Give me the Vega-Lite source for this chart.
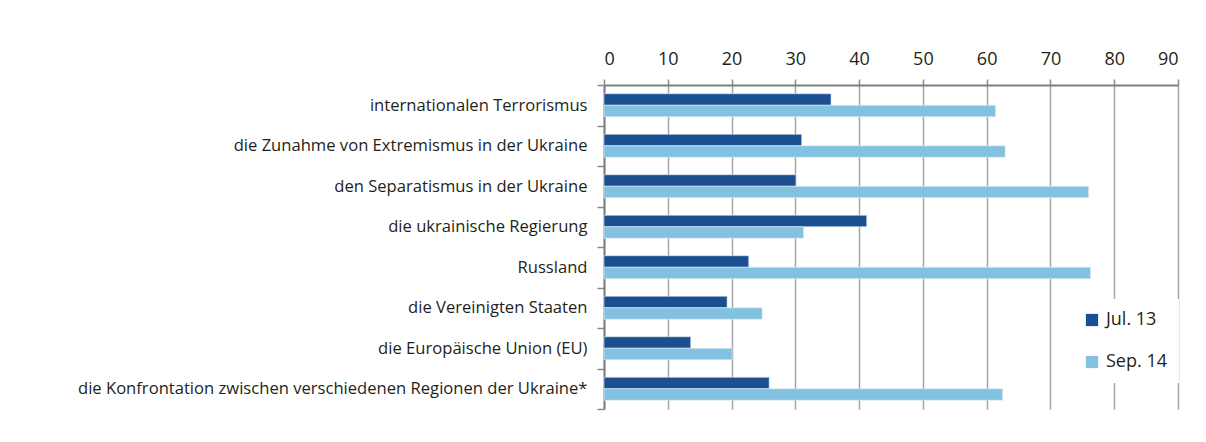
{
  "$schema": "https://vega.github.io/schema/vega-lite/v6.json",
  "autosize": "none",
  "width": 574,
  "height": 324,
  "padding": {"left": 604, "top": 85, "right": 28, "bottom": 33},
  "background": "white",
  "config": {"view": {"stroke": null}, "font": "Open Sans"},
  "data": {
    "values": [
      {"cat": "internationalen Terrorismus", "wave": "Jul. 13", "v": 35.6},
      {"cat": "internationalen Terrorismus", "wave": "Sep. 14", "v": 61.4},
      {"cat": "die Zunahme von Extremismus in der Ukraine", "wave": "Jul. 13", "v": 31.0},
      {"cat": "die Zunahme von Extremismus in der Ukraine", "wave": "Sep. 14", "v": 62.9},
      {"cat": "den Separatismus in der Ukraine", "wave": "Jul. 13", "v": 30.1},
      {"cat": "den Separatismus in der Ukraine", "wave": "Sep. 14", "v": 76.0},
      {"cat": "die ukrainische Regierung", "wave": "Jul. 13", "v": 41.2},
      {"cat": "die ukrainische Regierung", "wave": "Sep. 14", "v": 31.3},
      {"cat": "Russland", "wave": "Jul. 13", "v": 22.7},
      {"cat": "Russland", "wave": "Sep. 14", "v": 76.3},
      {"cat": "die Vereinigten Staaten", "wave": "Jul. 13", "v": 19.3},
      {"cat": "die Vereinigten Staaten", "wave": "Sep. 14", "v": 24.8},
      {"cat": "die Europäische Union (EU)", "wave": "Jul. 13", "v": 13.6},
      {"cat": "die Europäische Union (EU)", "wave": "Sep. 14", "v": 20.1},
      {"cat": "die Konfrontation zwischen verschiedenen Regionen der Ukraine*", "wave": "Jul. 13", "v": 25.9},
      {"cat": "die Konfrontation zwischen verschiedenen Regionen der Ukraine*", "wave": "Sep. 14", "v": 62.5}
    ]
  },
  "mark": {"type": "bar", "stroke": "#e6eef6", "strokeWidth": 0.6},
  "encoding": {
    "y": {
      "field": "cat", "type": "nominal", "sort": null,
      "scale": {"paddingInner": 0, "paddingOuter": 0},
      "axis": {
        "title": null, "orient": "left",
        "tickBand": "extent", "tickSize": 7, "tickColor": "#8a8a8e", "tickWidth": 1.5,
        "domainColor": "#7f7f83", "domainWidth": 2,
        "labelFontSize": 16.6, "labelColor": "#231f20", "labelPadding": 10, "labelLimit": 600,
        "grid": false
      }
    },
    "yOffset": {
      "field": "wave", "type": "nominal",
      "scale": {"paddingInner": 0, "paddingOuter": 0.76}
    },
    "x": {
      "field": "v", "type": "quantitative",
      "scale": {"domain": [0, 90], "nice": false},
      "axis": {
        "title": null, "orient": "top", "values": [0,10,20,30,40,50,60,70,80,90],
        "tickSize": 6, "tickColor": "#8a8a8e", "tickWidth": 1.5,
        "domainColor": "#7f7f83", "domainWidth": 2,
        "grid": true, "gridColor": "#a6a6aa", "gridWidth": 1.5,
        "labelFontSize": 18, "labelColor": "#231f20", "labelPadding": 11
      }
    },
    "color": {
      "field": "wave", "type": "nominal",
      "scale": {"domain": ["Jul. 13", "Sep. 14"], "range": ["#1b4f91", "#82c1df"]},
      "legend": {
        "title": null, "orient": "none", "legendX": 467, "legendY": 214,
        "fillColor": "white", "padding": 12,
        "symbolType": "square", "symbolSize": 150, "symbolStrokeWidth": 0,
        "labelFontSize": 18, "labelColor": "#231f20", "labelOffset": 5,
        "rowPadding": 24
      }
    }
  }
}
